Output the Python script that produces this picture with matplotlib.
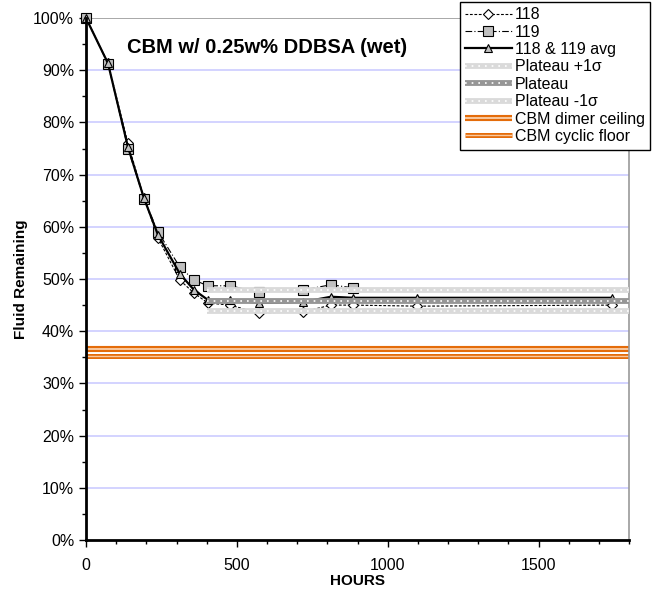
import numpy as np
import matplotlib
matplotlib.use("Agg")
import matplotlib.pyplot as plt
import matplotlib.patheffects as pe
from matplotlib.legend_handler import HandlerTuple

plt.rcParams['font.family'] = ['Liberation Sans', 'DejaVu Sans']

hours = [0, 73, 139, 192, 239, 311, 358, 404, 477, 573, 719, 812, 885, 1097, 1744]
s118 = [100, 91.4, 76.0, 65.6, 57.8, 49.8, 47.3, 45.4, 45.0, 43.5, 43.7, 45.0, 45.0, 44.8, 45.0]
s119 = [100, 91.2, 75.0, 65.4, 59.0, 52.3, 49.8, 48.7, 48.7, 47.5, 47.9, 48.9, 48.3, np.nan, np.nan]
savg = [100, 91.3, 75.3, 65.5, 58.4, 51.0, 47.9, 46.0, 46.0, 45.4, 45.6, 46.6, 46.4, 46.4, 46.4]

plateau_x = [400, 1800]
plateau_hi = 47.9
plateau_mid = 45.8
plateau_lo = 43.9
dimer_ceiling = 36.6
cyclic_floor = 35.2

title = "CBM w/ 0.25w% DDBSA (wet)"

fig = plt.figure(figsize=(6.52, 5.98), dpi=100)
ax = fig.add_axes([86/652, 1-540/598, 543/652, 522/598])

# gridlines
for v in range(10, 100, 10):
    ax.axhline(v, color='#ccccff', lw=1.2, zorder=0)
ax.axhline(100, color='#999999', lw=1.2, zorder=0)

# data (drawn beneath the plateau bands)
l118, = ax.plot(hours, s118, color='black', lw=0.8, ls=(0, (2.5, 1.5)), marker='D', ms=5,
                mfc='white', mec='black', mew=0.8, label='118', zorder=3, clip_on=False)
l119, = ax.plot(hours, s119, color='black', lw=0.8, ls=(0, (6, 2, 1, 2)), marker='s', ms=6.5,
                mfc='#c0c0c0', mec='black', mew=0.8, label='119', zorder=3, clip_on=False)
lavg, = ax.plot(hours, savg, color='black', lw=1.6, ls='-', marker='^', ms=6,
                mfc='#c0c0c0', mec='black', mew=0.8, label='118 & 119 avg', zorder=3.5,
                clip_on=False)

# plateau bands: solid band + white dots on top
def band(y, col):
    base, = ax.plot(plateau_x, [y]*2, color=col, lw=4.2, solid_capstyle='butt', zorder=4)
    dots, = ax.plot(plateau_x, [y]*2, color='white', lw=1.2, ls=(0, (1, 3)),
                    dash_capstyle='butt', zorder=4.1)
    return (base, dots)

p_hi = band(plateau_hi, '#dadada')
p_mid = band(plateau_mid, '#969696')
p_lo = band(plateau_lo, '#dadada')

# orange lines
o1, = ax.plot([0, 1800], [dimer_ceiling]*2, color='#f9c9a0', lw=1.4,
              path_effects=[pe.Stroke(linewidth=4.4, foreground='#e46c0a'), pe.Normal()],
              zorder=2, solid_capstyle='butt')
o2, = ax.plot([0, 1800], [cyclic_floor]*2, color='#f9c9a0', lw=1.0,
              path_effects=[pe.Stroke(linewidth=3.6, foreground='#e46c0a'), pe.Normal()],
              zorder=2, solid_capstyle='butt')

ax.set_xlim(0, 1800)
ax.set_ylim(0, 100)
ax.set_xticks([0, 500, 1000, 1500])
ax.set_xticks(np.arange(0, 1801, 100), minor=True)
ax.set_yticks(np.arange(0, 101, 10))
ax.set_yticks(np.arange(0, 101, 5), minor=True)
ax.set_yticklabels([f"{v}%" for v in range(0, 101, 10)])
ax.tick_params(axis='both', which='major', labelsize=11.5, direction='out', length=5, width=1)
ax.tick_params(axis='both', which='minor', direction='out', length=3, width=1)
ax.tick_params(axis='x', pad=8)

for s in ['left', 'bottom']:
    ax.spines[s].set_linewidth(2)
    ax.spines[s].set_color('black')
    ax.spines[s].set_zorder(6)
ax.spines['right'].set_color('#999999')
ax.spines['right'].set_linewidth(1.2)
ax.spines['top'].set_visible(False)

ax.set_xlabel('HOURS', fontsize=11, fontweight='bold', labelpad=1)
ax.set_ylabel('Fluid Remaining', fontsize=11, fontweight='bold', labelpad=4)

ax.text(0.333, 0.944, title, transform=ax.transAxes, fontsize=14.5, fontweight='bold',
        ha='center', va='center')

handles = [l118, l119, lavg, p_hi, p_mid, p_lo, o1, o2]
labels = ['118', '119', '118 & 119 avg', 'Plateau +1σ', 'Plateau', 'Plateau -1σ',
          'CBM dimer ceiling', 'CBM cyclic floor']
leg = fig.legend(handles, labels, loc='upper right',
                 bbox_to_anchor=(1.0, 1.0), bbox_transform=fig.transFigure,
                 fontsize=11.5, frameon=True, fancybox=False, edgecolor='black',
                 framealpha=1, handlelength=2.9, labelspacing=0.15, borderpad=0.35,
                 handletextpad=0.2, borderaxespad=0.1,
                 handler_map={tuple: HandlerTuple(ndivide=1, pad=0)})
leg.get_frame().set_linewidth(1.0)
leg.set_zorder(10)

fig.savefig('out.png', dpi=100)
